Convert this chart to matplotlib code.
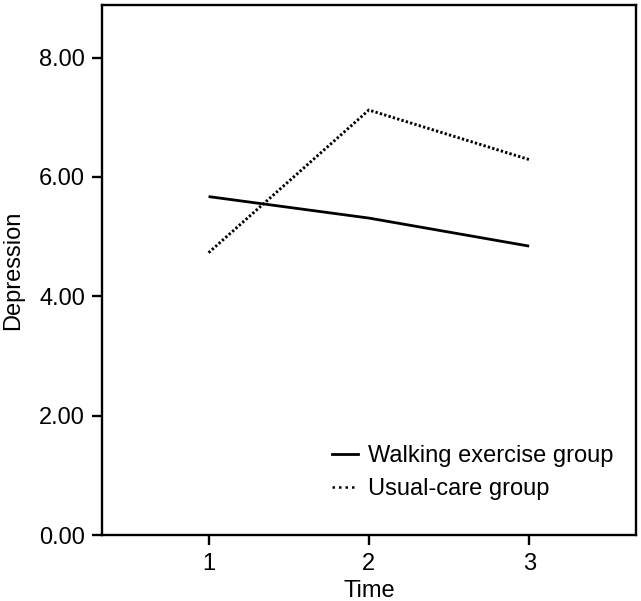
import matplotlib
matplotlib.use("Agg")
import matplotlib.pyplot as plt
from matplotlib.lines import Line2D
from matplotlib.ticker import FormatStrFormatter

plt.rcParams['font.family'] = ['Liberation Sans', 'DejaVu Sans']

# data
time_points = [1, 2, 3]
walking_group = [5.67, 5.31, 4.84]
usual_care_group = [4.73, 7.12, 6.29]
y_ticks = [0, 2, 4, 6, 8]
group_names = ['Walking exercise group', 'Usual-care group']

fig = plt.figure(figsize=(6.41, 6.01), dpi=100)
ax = fig.add_axes([0.1587, 0.1098, 0.8335, 0.8819])

ax.plot(time_points, walking_group, color='black', linewidth=2.0,
        solid_capstyle='butt')
ax.plot(time_points, usual_care_group, color='black', linewidth=2.1,
        dashes=(0.8, 0.75))

ax.set_xlim(1 / 3, 11 / 3)
ax.set_ylim(0, 8.88)
ax.set_xticks(time_points)
ax.set_yticks(y_ticks)
ax.yaxis.set_major_formatter(FormatStrFormatter('%.2f'))

for spine in ax.spines.values():
    spine.set_linewidth(1.7)
ax.tick_params(axis='both', labelsize=17, width=1.7, length=7, color='black')
ax.tick_params(axis='y', pad=5)
ax.tick_params(axis='x', pad=6)

ax.set_xlabel('Time', fontsize=17, labelpad=3.5)
ax.set_ylabel('Depression', fontsize=17, labelpad=11)

# legend handles: the dotted sample in the key is spaced wider than the data line
handles = [Line2D([], [], color='black', linewidth=2.0),
           Line2D([], [], color='black', linewidth=1.8, dashes=(1.0, 1.6))]
ax.legend(handles, group_names, loc='lower left', bbox_to_anchor=(0.431, 0.066),
          frameon=False, fontsize=17, handlelength=1.1, handletextpad=0.42,
          labelspacing=0.45, borderpad=0, borderaxespad=0)

fig.savefig('out.png', dpi=100)
